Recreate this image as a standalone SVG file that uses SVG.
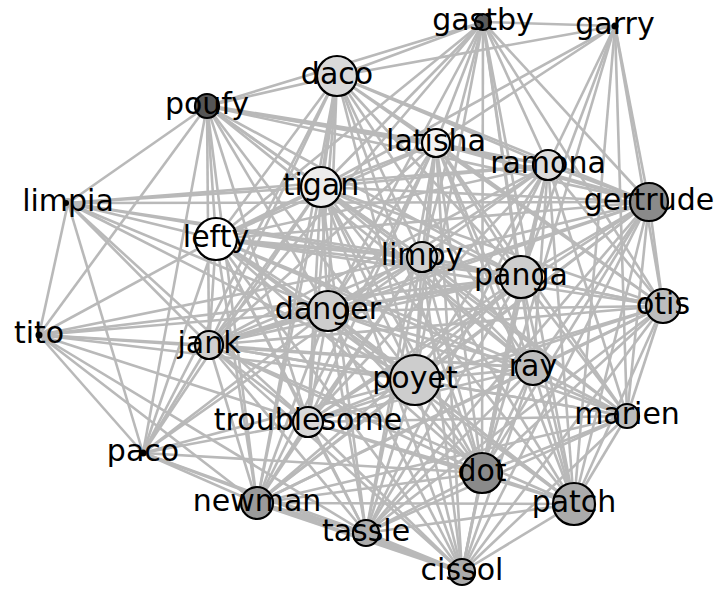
<svg xmlns="http://www.w3.org/2000/svg" width="719" height="590" viewBox="0 0 719 590">
<style>
.e{stroke:#b9b9b9;stroke-width:2.6;fill:none}
.t{stroke:#b9b9b9;stroke-width:4;fill:none}
.n{stroke:#000;stroke-width:2.2}
.d{fill:#000}
text{font-family:"DejaVu Sans",sans-serif;font-size:30px;fill:#000;text-anchor:middle}
</style>
<rect width="719" height="590" fill="#fff"/>
<g id="edges">
<line class="e" x1="615" y1="26" x2="483" y2="22"/>
<line class="e" x1="615" y1="26" x2="337" y2="76"/>
<line class="e" x1="615" y1="26" x2="436" y2="143"/>
<line class="e" x1="615" y1="26" x2="548" y2="165"/>
<line class="e" x1="615" y1="26" x2="649" y2="202"/>
<line class="e" x1="615" y1="26" x2="663" y2="306"/>
<line class="e" x1="615" y1="26" x2="521" y2="277"/>
<line class="e" x1="615" y1="26" x2="574" y2="504"/>
<line class="e" x1="615" y1="26" x2="482" y2="473"/>
<line class="e" x1="615" y1="26" x2="321" y2="187"/>
<line class="e" x1="615" y1="26" x2="627" y2="416"/>
<line class="e" x1="483" y1="22" x2="337" y2="76"/>
<line class="e" x1="483" y1="22" x2="207" y2="106"/>
<line class="e" x1="483" y1="22" x2="436" y2="143"/>
<line class="e" x1="483" y1="22" x2="321" y2="187"/>
<line class="e" x1="483" y1="22" x2="216" y2="239"/>
<line class="e" x1="483" y1="22" x2="422" y2="257"/>
<line class="e" x1="483" y1="22" x2="328" y2="311"/>
<line class="e" x1="483" y1="22" x2="548" y2="165"/>
<line class="e" x1="483" y1="22" x2="521" y2="277"/>
<line class="e" x1="483" y1="22" x2="649" y2="202"/>
<line class="e" x1="483" y1="22" x2="663" y2="306"/>
<line class="e" x1="483" y1="22" x2="533" y2="368"/>
<line class="e" x1="483" y1="22" x2="415" y2="380"/>
<line class="e" x1="483" y1="22" x2="482" y2="473"/>
<line class="e" x1="483" y1="22" x2="209" y2="345"/>
<line class="e" x1="483" y1="22" x2="574" y2="504"/>
<line class="e" x1="337" y1="76" x2="207" y2="106"/>
<line class="e" x1="337" y1="76" x2="436" y2="143"/>
<line class="t" x1="337" y1="76" x2="321" y2="187"/>
<line class="e" x1="337" y1="76" x2="216" y2="239"/>
<line class="e" x1="337" y1="76" x2="422" y2="257"/>
<line class="e" x1="337" y1="76" x2="328" y2="311"/>
<line class="e" x1="337" y1="76" x2="548" y2="165"/>
<line class="e" x1="337" y1="76" x2="521" y2="277"/>
<line class="e" x1="337" y1="76" x2="649" y2="202"/>
<line class="e" x1="337" y1="76" x2="415" y2="380"/>
<line class="e" x1="337" y1="76" x2="533" y2="368"/>
<line class="e" x1="337" y1="76" x2="209" y2="345"/>
<line class="e" x1="337" y1="76" x2="308" y2="422"/>
<line class="e" x1="337" y1="76" x2="482" y2="473"/>
<line class="e" x1="337" y1="76" x2="257" y2="503"/>
<line class="e" x1="337" y1="76" x2="663" y2="306"/>
<line class="e" x1="337" y1="76" x2="143" y2="453"/>
<line class="e" x1="207" y1="106" x2="68" y2="203"/>
<line class="t" x1="207" y1="106" x2="436" y2="143"/>
<line class="e" x1="207" y1="106" x2="548" y2="165"/>
<line class="e" x1="207" y1="106" x2="321" y2="187"/>
<line class="e" x1="207" y1="106" x2="216" y2="239"/>
<line class="e" x1="207" y1="106" x2="209" y2="345"/>
<line class="e" x1="207" y1="106" x2="39" y2="335"/>
<line class="e" x1="207" y1="106" x2="328" y2="311"/>
<line class="e" x1="207" y1="106" x2="422" y2="257"/>
<line class="e" x1="207" y1="106" x2="415" y2="380"/>
<line class="e" x1="207" y1="106" x2="308" y2="422"/>
<line class="e" x1="207" y1="106" x2="521" y2="277"/>
<line class="e" x1="207" y1="106" x2="533" y2="368"/>
<line class="e" x1="207" y1="106" x2="649" y2="202"/>
<line class="e" x1="207" y1="106" x2="257" y2="503"/>
<line class="e" x1="207" y1="106" x2="143" y2="453"/>
<line class="e" x1="68" y1="203" x2="321" y2="187"/>
<line class="e" x1="68" y1="203" x2="216" y2="239"/>
<line class="e" x1="68" y1="203" x2="209" y2="345"/>
<line class="e" x1="68" y1="203" x2="39" y2="335"/>
<line class="e" x1="68" y1="203" x2="328" y2="311"/>
<line class="e" x1="68" y1="203" x2="308" y2="422"/>
<line class="e" x1="68" y1="203" x2="143" y2="453"/>
<line class="e" x1="68" y1="203" x2="422" y2="257"/>
<line class="e" x1="68" y1="203" x2="415" y2="380"/>
<line class="e" x1="68" y1="203" x2="548" y2="165"/>
<line class="e" x1="68" y1="203" x2="649" y2="202"/>
<line class="e" x1="68" y1="203" x2="521" y2="277"/>
<line class="e" x1="39" y1="335" x2="216" y2="239"/>
<line class="e" x1="39" y1="335" x2="209" y2="345"/>
<line class="e" x1="39" y1="335" x2="143" y2="453"/>
<line class="e" x1="39" y1="335" x2="308" y2="422"/>
<line class="e" x1="39" y1="335" x2="257" y2="503"/>
<line class="e" x1="39" y1="335" x2="415" y2="380"/>
<line class="e" x1="39" y1="335" x2="533" y2="368"/>
<line class="e" x1="39" y1="335" x2="328" y2="311"/>
<line class="e" x1="39" y1="335" x2="422" y2="257"/>
<line class="e" x1="39" y1="335" x2="521" y2="277"/>
<line class="e" x1="39" y1="335" x2="366" y2="533"/>
<line class="e" x1="143" y1="453" x2="216" y2="239"/>
<line class="e" x1="143" y1="453" x2="209" y2="345"/>
<line class="e" x1="143" y1="453" x2="321" y2="187"/>
<line class="e" x1="143" y1="453" x2="328" y2="311"/>
<line class="e" x1="143" y1="453" x2="308" y2="422"/>
<line class="e" x1="143" y1="453" x2="415" y2="380"/>
<line class="e" x1="143" y1="453" x2="482" y2="473"/>
<line class="e" x1="143" y1="453" x2="257" y2="503"/>
<line class="e" x1="143" y1="453" x2="366" y2="533"/>
<line class="e" x1="143" y1="453" x2="462" y2="572"/>
<line class="e" x1="143" y1="453" x2="422" y2="257"/>
<line class="e" x1="436" y1="143" x2="548" y2="165"/>
<line class="e" x1="436" y1="143" x2="321" y2="187"/>
<line class="e" x1="436" y1="143" x2="216" y2="239"/>
<line class="e" x1="436" y1="143" x2="422" y2="257"/>
<line class="e" x1="436" y1="143" x2="521" y2="277"/>
<line class="t" x1="436" y1="143" x2="649" y2="202"/>
<line class="e" x1="436" y1="143" x2="328" y2="311"/>
<line class="e" x1="436" y1="143" x2="415" y2="380"/>
<line class="e" x1="436" y1="143" x2="533" y2="368"/>
<line class="e" x1="436" y1="143" x2="663" y2="306"/>
<line class="e" x1="436" y1="143" x2="627" y2="416"/>
<line class="e" x1="436" y1="143" x2="482" y2="473"/>
<line class="e" x1="436" y1="143" x2="209" y2="345"/>
<line class="e" x1="436" y1="143" x2="308" y2="422"/>
<line class="e" x1="436" y1="143" x2="574" y2="504"/>
<line class="e" x1="436" y1="143" x2="462" y2="572"/>
<line class="e" x1="436" y1="143" x2="257" y2="503"/>
<line class="e" x1="436" y1="143" x2="366" y2="533"/>
<line class="e" x1="548" y1="165" x2="321" y2="187"/>
<line class="e" x1="548" y1="165" x2="216" y2="239"/>
<line class="e" x1="548" y1="165" x2="649" y2="202"/>
<line class="e" x1="548" y1="165" x2="422" y2="257"/>
<line class="e" x1="548" y1="165" x2="521" y2="277"/>
<line class="e" x1="548" y1="165" x2="663" y2="306"/>
<line class="e" x1="548" y1="165" x2="328" y2="311"/>
<line class="e" x1="548" y1="165" x2="415" y2="380"/>
<line class="e" x1="548" y1="165" x2="533" y2="368"/>
<line class="e" x1="548" y1="165" x2="627" y2="416"/>
<line class="e" x1="548" y1="165" x2="482" y2="473"/>
<line class="e" x1="548" y1="165" x2="574" y2="504"/>
<line class="e" x1="548" y1="165" x2="308" y2="422"/>
<line class="e" x1="548" y1="165" x2="366" y2="533"/>
<line class="e" x1="548" y1="165" x2="462" y2="572"/>
<line class="e" x1="548" y1="165" x2="209" y2="345"/>
<line class="t" x1="321" y1="187" x2="216" y2="239"/>
<line class="e" x1="321" y1="187" x2="422" y2="257"/>
<line class="e" x1="321" y1="187" x2="521" y2="277"/>
<line class="e" x1="321" y1="187" x2="649" y2="202"/>
<line class="e" x1="321" y1="187" x2="328" y2="311"/>
<line class="e" x1="321" y1="187" x2="209" y2="345"/>
<line class="e" x1="321" y1="187" x2="415" y2="380"/>
<line class="e" x1="321" y1="187" x2="533" y2="368"/>
<line class="e" x1="321" y1="187" x2="663" y2="306"/>
<line class="e" x1="321" y1="187" x2="627" y2="416"/>
<line class="e" x1="321" y1="187" x2="308" y2="422"/>
<line class="e" x1="321" y1="187" x2="482" y2="473"/>
<line class="e" x1="321" y1="187" x2="257" y2="503"/>
<line class="e" x1="321" y1="187" x2="366" y2="533"/>
<line class="e" x1="321" y1="187" x2="462" y2="572"/>
<line class="e" x1="321" y1="187" x2="574" y2="504"/>
<line class="e" x1="649" y1="202" x2="216" y2="239"/>
<line class="e" x1="649" y1="202" x2="422" y2="257"/>
<line class="e" x1="649" y1="202" x2="521" y2="277"/>
<line class="e" x1="649" y1="202" x2="663" y2="306"/>
<line class="e" x1="649" y1="202" x2="328" y2="311"/>
<line class="e" x1="649" y1="202" x2="533" y2="368"/>
<line class="e" x1="649" y1="202" x2="415" y2="380"/>
<line class="e" x1="649" y1="202" x2="627" y2="416"/>
<line class="e" x1="649" y1="202" x2="574" y2="504"/>
<line class="e" x1="649" y1="202" x2="482" y2="473"/>
<line class="e" x1="649" y1="202" x2="308" y2="422"/>
<line class="e" x1="649" y1="202" x2="209" y2="345"/>
<line class="e" x1="649" y1="202" x2="257" y2="503"/>
<line class="e" x1="649" y1="202" x2="366" y2="533"/>
<line class="e" x1="649" y1="202" x2="462" y2="572"/>
<line class="t" x1="216" y1="239" x2="422" y2="257"/>
<line class="e" x1="216" y1="239" x2="521" y2="277"/>
<line class="e" x1="216" y1="239" x2="328" y2="311"/>
<line class="e" x1="216" y1="239" x2="209" y2="345"/>
<line class="e" x1="216" y1="239" x2="415" y2="380"/>
<line class="e" x1="216" y1="239" x2="533" y2="368"/>
<line class="e" x1="216" y1="239" x2="663" y2="306"/>
<line class="e" x1="216" y1="239" x2="308" y2="422"/>
<line class="e" x1="216" y1="239" x2="257" y2="503"/>
<line class="e" x1="216" y1="239" x2="482" y2="473"/>
<line class="e" x1="216" y1="239" x2="366" y2="533"/>
<line class="e" x1="216" y1="239" x2="462" y2="572"/>
<line class="e" x1="216" y1="239" x2="627" y2="416"/>
<line class="e" x1="216" y1="239" x2="574" y2="504"/>
<line class="e" x1="422" y1="257" x2="521" y2="277"/>
<line class="e" x1="422" y1="257" x2="328" y2="311"/>
<line class="e" x1="422" y1="257" x2="415" y2="380"/>
<line class="e" x1="422" y1="257" x2="533" y2="368"/>
<line class="e" x1="422" y1="257" x2="663" y2="306"/>
<line class="e" x1="422" y1="257" x2="627" y2="416"/>
<line class="e" x1="422" y1="257" x2="209" y2="345"/>
<line class="e" x1="422" y1="257" x2="308" y2="422"/>
<line class="e" x1="422" y1="257" x2="482" y2="473"/>
<line class="e" x1="422" y1="257" x2="257" y2="503"/>
<line class="e" x1="422" y1="257" x2="574" y2="504"/>
<line class="e" x1="422" y1="257" x2="366" y2="533"/>
<line class="e" x1="422" y1="257" x2="462" y2="572"/>
<line class="e" x1="521" y1="277" x2="663" y2="306"/>
<line class="t" x1="521" y1="277" x2="328" y2="311"/>
<line class="e" x1="521" y1="277" x2="533" y2="368"/>
<line class="e" x1="521" y1="277" x2="415" y2="380"/>
<line class="e" x1="521" y1="277" x2="627" y2="416"/>
<line class="e" x1="521" y1="277" x2="209" y2="345"/>
<line class="e" x1="521" y1="277" x2="308" y2="422"/>
<line class="e" x1="521" y1="277" x2="482" y2="473"/>
<line class="e" x1="521" y1="277" x2="574" y2="504"/>
<line class="e" x1="521" y1="277" x2="257" y2="503"/>
<line class="e" x1="521" y1="277" x2="366" y2="533"/>
<line class="e" x1="521" y1="277" x2="462" y2="572"/>
<line class="e" x1="663" y1="306" x2="328" y2="311"/>
<line class="e" x1="663" y1="306" x2="533" y2="368"/>
<line class="e" x1="663" y1="306" x2="415" y2="380"/>
<line class="e" x1="663" y1="306" x2="627" y2="416"/>
<line class="e" x1="663" y1="306" x2="574" y2="504"/>
<line class="e" x1="663" y1="306" x2="482" y2="473"/>
<line class="e" x1="663" y1="306" x2="308" y2="422"/>
<line class="e" x1="663" y1="306" x2="209" y2="345"/>
<line class="e" x1="663" y1="306" x2="257" y2="503"/>
<line class="e" x1="663" y1="306" x2="462" y2="572"/>
<line class="e" x1="663" y1="306" x2="366" y2="533"/>
<line class="t" x1="328" y1="311" x2="209" y2="345"/>
<line class="e" x1="328" y1="311" x2="533" y2="368"/>
<line class="t" x1="328" y1="311" x2="415" y2="380"/>
<line class="e" x1="328" y1="311" x2="308" y2="422"/>
<line class="e" x1="328" y1="311" x2="482" y2="473"/>
<line class="e" x1="328" y1="311" x2="257" y2="503"/>
<line class="e" x1="328" y1="311" x2="574" y2="504"/>
<line class="e" x1="328" y1="311" x2="366" y2="533"/>
<line class="e" x1="328" y1="311" x2="462" y2="572"/>
<line class="e" x1="328" y1="311" x2="627" y2="416"/>
<line class="e" x1="209" y1="345" x2="533" y2="368"/>
<line class="e" x1="209" y1="345" x2="415" y2="380"/>
<line class="e" x1="209" y1="345" x2="308" y2="422"/>
<line class="e" x1="209" y1="345" x2="257" y2="503"/>
<line class="e" x1="209" y1="345" x2="482" y2="473"/>
<line class="e" x1="209" y1="345" x2="366" y2="533"/>
<line class="e" x1="209" y1="345" x2="462" y2="572"/>
<line class="e" x1="209" y1="345" x2="574" y2="504"/>
<line class="e" x1="209" y1="345" x2="627" y2="416"/>
<line class="e" x1="533" y1="368" x2="415" y2="380"/>
<line class="e" x1="533" y1="368" x2="627" y2="416"/>
<line class="e" x1="533" y1="368" x2="308" y2="422"/>
<line class="e" x1="533" y1="368" x2="482" y2="473"/>
<line class="e" x1="533" y1="368" x2="574" y2="504"/>
<line class="e" x1="533" y1="368" x2="257" y2="503"/>
<line class="e" x1="533" y1="368" x2="366" y2="533"/>
<line class="e" x1="533" y1="368" x2="462" y2="572"/>
<line class="e" x1="415" y1="380" x2="627" y2="416"/>
<line class="e" x1="415" y1="380" x2="308" y2="422"/>
<line class="e" x1="415" y1="380" x2="482" y2="473"/>
<line class="e" x1="415" y1="380" x2="257" y2="503"/>
<line class="e" x1="415" y1="380" x2="574" y2="504"/>
<line class="e" x1="415" y1="380" x2="366" y2="533"/>
<line class="e" x1="415" y1="380" x2="462" y2="572"/>
<line class="e" x1="627" y1="416" x2="482" y2="473"/>
<line class="e" x1="627" y1="416" x2="574" y2="504"/>
<line class="e" x1="627" y1="416" x2="308" y2="422"/>
<line class="e" x1="627" y1="416" x2="462" y2="572"/>
<line class="e" x1="627" y1="416" x2="366" y2="533"/>
<line class="e" x1="627" y1="416" x2="257" y2="503"/>
<line class="e" x1="308" y1="422" x2="482" y2="473"/>
<line class="e" x1="308" y1="422" x2="257" y2="503"/>
<line class="e" x1="308" y1="422" x2="366" y2="533"/>
<line class="e" x1="308" y1="422" x2="462" y2="572"/>
<line class="e" x1="308" y1="422" x2="574" y2="504"/>
<line class="e" x1="482" y1="473" x2="257" y2="503"/>
<line class="e" x1="482" y1="473" x2="574" y2="504"/>
<line class="e" x1="482" y1="473" x2="366" y2="533"/>
<line class="e" x1="482" y1="473" x2="462" y2="572"/>
<line class="t" x1="257" y1="503" x2="366" y2="533"/>
<line class="t" x1="257" y1="503" x2="462" y2="572"/>
<line class="e" x1="257" y1="503" x2="574" y2="504"/>
<line class="e" x1="574" y1="504" x2="462" y2="572"/>
<line class="e" x1="574" y1="504" x2="366" y2="533"/>
<line class="t" x1="366" y1="533" x2="462" y2="572"/>
</g>
<g id="node-gastby"><circle class="n" cx="483" cy="22" r="8" fill="#5a5a5a"/><text x="483" y="30">gastby</text></g>
<g id="node-garry"><circle class="d" cx="615" cy="26" r="3.5"/><text x="615" y="34">garry</text></g>
<g id="node-daco"><circle class="n" cx="337" cy="76" r="20" fill="#d9d9d9"/><text x="337" y="84">daco</text></g>
<g id="node-poufy"><circle class="n" cx="207" cy="106" r="12" fill="#555"/><text x="207" y="114">poufy</text></g>
<g id="node-latisha"><circle class="n" cx="436" cy="143" r="14" fill="#f2f2f2"/><text x="436" y="151">latisha</text></g>
<g id="node-ramona"><circle class="n" cx="548" cy="165" r="15" fill="#dcdcdc"/><text x="548" y="173">ramona</text></g>
<g id="node-limpia"><circle cx="68" cy="203" r="5" fill="#b0b0b0"/><circle class="d" cx="66" cy="203" r="3"/><text x="68" y="211">limpia</text></g>
<g id="node-tigan"><circle class="n" cx="321" cy="187" r="20" fill="#ececec"/><text x="321" y="195">tigan</text></g>
<g id="node-gertrude"><circle class="n" cx="649" cy="202" r="19" fill="#8a8a8a"/><text x="649" y="210">gertrude</text></g>
<g id="node-lefty"><circle class="n" cx="216" cy="239" r="21" fill="#fff"/><text x="216" y="247">lefty</text></g>
<g id="node-limpy"><circle class="n" cx="422" cy="257" r="15" fill="#d0d0d0"/><text x="422" y="265">limpy</text></g>
<g id="node-panga"><circle class="n" cx="521" cy="277" r="21" fill="#cdcdcd"/><text x="521" y="285">panga</text></g>
<g id="node-otis"><circle class="n" cx="663" cy="306" r="17" fill="#bdbdbd"/><text x="663" y="314">otis</text></g>
<g id="node-danger"><circle class="n" cx="328" cy="311" r="20" fill="#cdcdcd"/><text x="328" y="319">danger</text></g>
<g id="node-tito"><circle class="d" cx="39" cy="335" r="3.5"/><text x="39" y="343">tito</text></g>
<g id="node-jank"><circle class="n" cx="209" cy="345" r="14" fill="#d0d0d0"/><text x="209" y="353">jank</text></g>
<g id="node-ray"><circle class="n" cx="533" cy="368" r="17" fill="#bdbdbd"/><text x="533" y="376">ray</text></g>
<g id="node-poyet"><circle class="n" cx="415" cy="380" r="25" fill="#cdcdcd"/><text x="415" y="388">poyet</text></g>
<g id="node-marien"><circle class="n" cx="627" cy="416" r="12" fill="#bdbdbd"/><text x="627" y="424">marien</text></g>
<g id="node-troublesome"><circle class="n" cx="308" cy="422" r="15" fill="#d8d8d8"/><text x="308" y="430">troublesome</text></g>
<g id="node-paco"><circle class="d" cx="143" cy="453" r="3.5"/><text x="143" y="461">paco</text></g>
<g id="node-dot"><circle class="n" cx="482" cy="473" r="20" fill="#8a8a8a"/><text x="482" y="481">dot</text></g>
<g id="node-newman"><circle class="n" cx="257" cy="503" r="16" fill="#9a9a9a"/><text x="257" y="511">newman</text></g>
<g id="node-patch"><circle class="n" cx="574" cy="504" r="21" fill="#ababab"/><text x="574" y="512">patch</text></g>
<g id="node-tassle"><circle class="n" cx="366" cy="533" r="13" fill="#acacac"/><text x="366" y="541">tassle</text></g>
<g id="node-cissol"><circle class="n" cx="462" cy="572" r="13" fill="#acacac"/><text x="462" y="580">cissol</text></g>
</svg>
